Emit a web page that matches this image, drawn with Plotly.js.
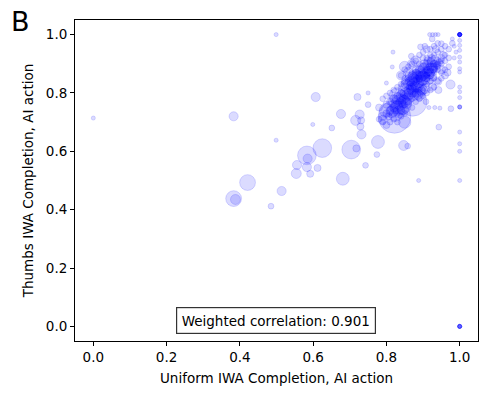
<!DOCTYPE html>
<html>
<head>
<meta charset="utf-8">
<script src="https://cdn.plot.ly/plotly-3.0.1.min.js"></script>
<style>
  body { margin: 0; background: #fff; }
  #chart { width: 489px; height: 395px; }
</style>
</head>
<body>
<div id="chart"></div>
<script>
// IWA completion per task, uniform vs thumbs weighting (AI action)
// weight = relative task weight, drawn as marker area
var uniformIWA = [
  // outliers
  0.0, 0.499, 0.383, 0.499, 0.607, 0.599, 0.651, 0.676, 0.721, 0.75, 0.75, 0.716, 0.727, 0.731, 0.732, 0.729,
  0.777, 0.847, 0.858, 0.774, 0.743, 0.943, 0.79, 0.806, 0.80, 0.816, 0.818, 0.868, 0.893,
  0.918, 0.926, 0.934, 0.941, 0.925, 0.95, 0.975, 0.976, 0.916, 0.932, 0.946, 0.908, 0.942, 0.967,
  0.985, 0.99, 0.985, 0.98,
  1, 1, 1, 1, 1, 1, 1, 1, 1, 1, 1, 1, 1, 1, 1, 1, 1,
  1, 1, 1, 1, 1, 1, 1, 1, 1, 1,
  1, 1, 1, 1, 1, 1,
  0.888, 0.583, 0.585, 0.625, 0.704, 0.718, 0.556, 0.583, 0.612, 0.554, 0.592, 0.681,
  0.421, 0.383, 0.388, 0.514, 0.485,
  // main cluster
  0.90, 0.91, 0.92, 0.89, 0.88, 0.87, 0.86, 0.85, 0.93, 0.94, 0.92, 0.91, 0.90, 0.89, 0.88, 0.87,
  0.86, 0.85, 0.84, 0.83, 0.82, 0.90, 0.89, 0.88, 0.87, 0.86, 0.85, 0.93, 0.94, 0.95, 0.92, 0.91,
  0.90, 0.93, 0.94, 0.95, 0.96, 0.95, 0.96, 0.97, 0.91, 0.92, 0.89, 0.88, 0.87, 0.86, 0.85, 0.84,
  0.83, 0.84, 0.83, 0.82, 0.81, 0.80, 0.81, 0.80, 0.79, 0.78, 0.79, 0.80, 0.81, 0.82, 0.90, 0.91,
  0.92, 0.93, 0.94, 0.93, 0.92, 0.91, 0.90, 0.89, 0.88, 0.87, 0.86, 0.85, 0.84, 0.83, 0.86, 0.87,
  0.88, 0.89, 0.90, 0.91, 0.92, 0.93, 0.94, 0.95, 0.96, 0.97, 0.98, 0.93, 0.92, 0.94, 0.90, 0.89,
  0.88, 0.87, 0.86, 0.85, 0.84, 0.97, 0.96, 0.95, 0.95, 0.94, 0.93, 0.92, 0.91, 0.90, 0.89, 0.88,
  0.87, 0.85, 0.84, 0.83, 0.82, 0.81, 0.80, 0.79, 0.78,
  // dense core
  0.905, 0.915, 0.925, 0.895, 0.885, 0.875, 0.865, 0.912, 0.902, 0.892, 0.882, 0.872, 0.922, 0.932, 0.918, 0.908,
  0.898, 0.888, 0.878, 0.868, 0.928, 0.938, 0.906, 0.896, 0.886, 0.876, 0.916, 0.926, 0.894, 0.884,
  0.874, 0.864, 0.854, 0.904, 0.914, 0.924, 0.934, 0.944, 0.882, 0.892,
  0.858, 0.848, 0.838, 0.828, 0.818, 0.852, 0.842, 0.832, 0.822, 0.862, 0.845, 0.835, 0.825, 0.815, 0.855,
  // spread around the core
  0.88, 0.87, 0.91, 0.95, 0.96, 0.94, 0.86, 0.85, 0.84, 0.935, 0.955, 0.90, 0.89, 0.925, 0.87, 0.905,
  // large bubbles
  0.822, 0.872, 0.86, 0.84, 0.83, 0.88, 0.90, 0.92, 0.80, 0.85
];
var thumbsIWA = [
  0.714, 1.0, 0.72, 0.638, 0.786, 0.692, 0.68, 0.728, 0.786, 0.80, 0.76, 0.706, 0.726, 0.706, 0.658, 0.685,
  0.632, 0.62, 0.618, 0.589, 0.552, 0.683, 0.708, 0.72, 0.834, 0.889, 0.94, 0.926, 0.958,
  1.0, 1.0, 1.0, 1.0, 0.985, 0.969, 0.829, 0.746, 0.75, 0.75, 0.748, 0.77, 0.81, 0.87,
  0.96, 0.94, 0.92, 0.985,
  0.98, 0.963, 0.946, 0.923, 0.906, 0.883, 0.872, 0.82, 0.804, 0.784, 0.752, 0.752, 0.752, 0.666, 0.626, 0.60, 0.50,
  1, 1, 1, 1, 1, 1, 1, 1, 1, 1,
  0, 0, 0, 0, 0, 0,
  0.50, 0.586, 0.575, 0.611, 0.606, 0.61, 0.553, 0.546, 0.543, 0.524, 0.523, 0.506,
  0.493, 0.438, 0.435, 0.464, 0.412,
  0.87, 0.88, 0.89, 0.86, 0.85, 0.84, 0.83, 0.82, 0.90, 0.91, 0.87, 0.85, 0.84, 0.83, 0.82, 0.80,
  0.79, 0.78, 0.77, 0.76, 0.75, 0.89, 0.90, 0.88, 0.87, 0.86, 0.85, 0.88, 0.89, 0.90, 0.91, 0.92,
  0.92, 0.93, 0.94, 0.95, 0.93, 0.92, 0.91, 0.92, 0.90, 0.93, 0.88, 0.87, 0.86, 0.85, 0.84, 0.83,
  0.82, 0.80, 0.79, 0.78, 0.77, 0.76, 0.74, 0.73, 0.72, 0.75, 0.78, 0.79, 0.80, 0.81, 0.86, 0.87,
  0.86, 0.87, 0.88, 0.85, 0.84, 0.83, 0.82, 0.81, 0.80, 0.78, 0.77, 0.76, 0.74, 0.73, 0.80, 0.82,
  0.84, 0.85, 0.85, 0.86, 0.88, 0.89, 0.90, 0.91, 0.96, 0.95, 0.97, 0.96, 0.95, 0.97, 0.94, 0.93,
  0.91, 0.90, 0.89, 0.88, 0.86, 0.89, 0.88, 0.87, 0.85, 0.84, 0.82, 0.81, 0.80, 0.79, 0.78, 0.77,
  0.75, 0.73, 0.72, 0.70, 0.71, 0.70, 0.69, 0.70, 0.71,
  0.865, 0.875, 0.885, 0.855, 0.845, 0.835, 0.825, 0.895, 0.885, 0.875, 0.865, 0.855, 0.905, 0.915, 0.865, 0.855,
  0.845, 0.835, 0.825, 0.815, 0.885, 0.895, 0.815, 0.805, 0.795, 0.79, 0.845, 0.855, 0.87, 0.86,
  0.85, 0.84, 0.83, 0.90, 0.91, 0.92, 0.90, 0.905, 0.80, 0.81,
  0.78, 0.77, 0.76, 0.75, 0.74, 0.80, 0.79, 0.78, 0.77, 0.81, 0.745, 0.735, 0.725, 0.735, 0.765,
  0.91, 0.90, 0.95, 0.88, 0.86, 0.84, 0.87, 0.89, 0.86, 0.95, 0.93, 0.81, 0.79, 0.82, 0.81, 0.96,
  0.718, 0.769, 0.813, 0.76, 0.79, 0.83, 0.85, 0.88, 0.74, 0.70
];
var weight = [
  1, 1, 5, 1, 5, 1, 2, 5, 3, 1, 2, 6, 5, 3, 5, 3,
  10, 6, 2, 2, 2, 2, 5, 3, 1, 1, 1, 2, 2,
  1, 1, 1, 1, 2, 2, 5, 2, 1, 1, 1, 2, 3, 3,
  1, 1, 1, 1,
  1, 1, 1, 1, 1, 1, 1, 1, 1, 1, 1, 1, 1, 1, 1, 1, 1,
  1, 1, 1, 1, 1, 1, 1, 1, 1, 1,
  1, 1, 1, 1, 1, 1,
  1, 21, 5, 21, 21, 3, 5, 5, 3, 6, 3, 10,
  15, 15, 6, 5, 2,
  4, 3, 4, 5, 4, 6, 5, 4, 3, 3, 4, 3, 4, 3, 5, 4,
  5, 4, 6, 5, 4, 3, 2, 3, 2, 3, 2, 3, 2, 2, 3, 2,
  2, 2, 2, 2, 2, 3, 2, 2, 4, 2, 4, 3, 4, 3, 3, 2,
  2, 3, 3, 4, 3, 3, 4, 3, 4, 3, 2, 2, 2, 2, 6, 5,
  3, 2, 2, 2, 2, 2, 3, 2, 3, 2, 3, 2, 3, 2, 4, 4,
  4, 3, 2, 2, 3, 3, 2, 2, 2, 2, 2, 2, 2, 2, 2, 2,
  2, 2, 2, 2, 2, 2, 2, 2, 2, 2, 2, 2, 2, 2, 2, 2,
  2, 2, 2, 2, 2, 2, 3, 2, 2,
  6, 5, 6, 7, 5, 6, 4, 5, 7, 6, 5, 6, 4, 4, 6, 5,
  7, 6, 5, 6, 4, 3, 6, 5, 6, 5, 5, 4, 6, 5,
  6, 5, 6, 4, 4, 3, 3, 3, 5, 6,
  8, 9, 8, 10, 8, 7, 8, 9, 10, 6, 8, 9, 10, 8, 7,
  6, 5, 3, 4, 3, 4, 6, 7, 5, 3, 3, 5, 6, 4, 6, 2,
  64, 48, 25, 25, 16, 16, 12, 9, 12, 9
];
var tickVals = [0, 0.2, 0.4, 0.6, 0.8, 1.0];
var corrLabel = 'Weighted correlation: 0.901';

var FONT = 'DejaVu Sans, Arial, sans-serif';

var trace = {
  x: uniformIWA,
  y: thumbsIWA,
  mode: 'markers',
  type: 'scatter',
  hoverinfo: 'skip',
  marker: {
    size: weight,
    sizemode: 'area',
    sizeref: 0.12,
    sizemin: 2,
    color: 'rgba(0,0,255,0.2)',
    line: { color: 'rgba(0,0,255,0.2)', width: 1 }
  }
};

function axis(titleText, standoff) {
  return {
    range: [-0.05, 1.05],
    tickvals: tickVals,
    tickformat: '.1f',
    ticks: 'outside',
    ticklen: 4,
    tickwidth: 1,
    tickcolor: '#000',
    showline: true,
    mirror: true,
    linecolor: '#000',
    linewidth: 1,
    showgrid: false,
    zeroline: false,
    tickfont: { family: FONT, size: 13.5, color: '#000' },
    title: { text: titleText, standoff: standoff, font: { family: FONT, size: 13.5, color: '#000' } }
  };
}

var layout = {
  width: 489,
  height: 395,
  margin: { l: 75, r: 11, t: 20, b: 54 },
  paper_bgcolor: '#fff',
  plot_bgcolor: '#fff',
  showlegend: false,
  xaxis: axis('Uniform IWA Completion, AI action', 9),
  yaxis: axis('Thumbs IWA Completion, AI action', 9),
  annotations: [
    {
      text: corrLabel, x: 0.499, y: 0.019, xref: 'x', yref: 'y',
      showarrow: false, font: { family: FONT, size: 13.5, color: '#000' },
      bgcolor: '#fff', bordercolor: '#333', borderwidth: 1.2, borderpad: 4.5
    },
    {
      text: 'B', x: -0.134, y: 0.995, xref: 'paper', yref: 'paper',
      xanchor: 'center', yanchor: 'middle',
      showarrow: false, font: { family: FONT, size: 27, color: '#000' }
    }
  ]
};

Plotly.newPlot('chart', [trace], layout, { staticPlot: true });
</script>
</body>
</html>
